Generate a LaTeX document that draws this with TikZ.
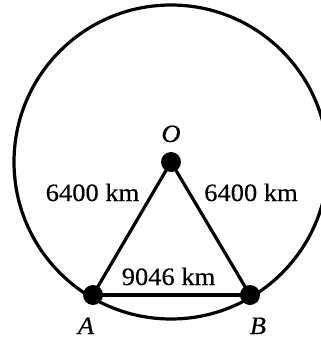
\documentclass[tikz,border=0pt]{standalone}
\usepackage{fontspec}
\setmainfont{Liberation Serif}[FakeStretch=1.06,FakeBold=0.4]
\begin{document}
\begin{tikzpicture}[x=1pt,y=-1pt,
  line width=3.2pt,
  dot/.style={circle,fill=black,inner sep=0pt,minimum size=20pt},
  lbl/.style={anchor=base,inner sep=0pt,font=\fontsize{25}{28}\selectfont},
  ilbl/.style={anchor=base,inner sep=0pt,font=\fontsize{25}{28}\selectfont\itshape}]
\useasboundingbox (0,0) rectangle (321,338);
\clip (0,0) rectangle (321,338);
\coordinate (C) at (171,162);
\draw (C) circle[radius=157];
\node[dot] (O) at (171,162) {};
\node[dot] (A) at (93,295) {};
\node[dot] (B) at (250,295) {};
\draw (A.center) -- (O.center) -- (B.center);
\draw (A.center) -- (B.center);
\node[ilbl] (lO) at (171,142) {O};
\node[ilbl] (lA) at (86,334) {A};
\node[ilbl] (lB) at (258,334) {B};
\node[lbl] (dL) at (92.5,201) {6400 km};
\node[lbl] (dR) at (251,201) {6400 km};
\node[lbl] (dAB) at (168.5,285) {9046 km};
\end{tikzpicture}
\end{document}
